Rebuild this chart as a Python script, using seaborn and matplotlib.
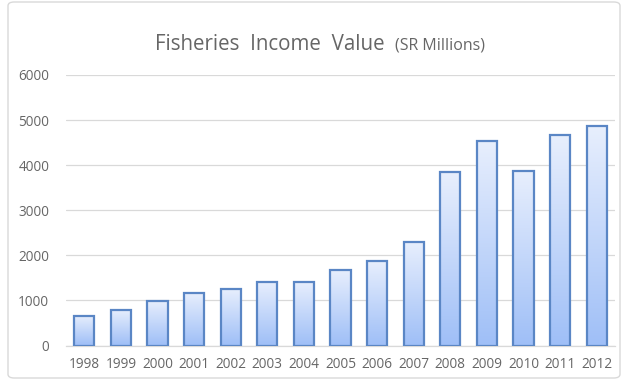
import numpy as np
import pandas as pd
import matplotlib
matplotlib.use("Agg")
import matplotlib.pyplot as plt
import seaborn as sns
from matplotlib.colors import LinearSegmentedColormap
from matplotlib.patches import FancyBboxPatch

years = ["1998", "1999", "2000", "2001", "2002", "2003", "2004", "2005",
         "2006", "2007", "2008", "2009", "2010", "2011", "2012"]
income = [660, 795, 980, 1165, 1255, 1400, 1400, 1680, 1885, 2285,
          3845, 4545, 3860, 4660, 4865]
yticks = [0, 1000, 2000, 3000, 4000, 5000, 6000]

df = pd.DataFrame({"year": years, "income": income})

sns.set_theme(style="white")
plt.rcParams["font.family"] = ["Open Sans", "DejaVu Sans"]

fig = plt.figure(figsize=(6.26, 3.81), dpi=100)
ax = fig.add_axes([66/626, 1 - 345.5/381, (615-66)/626, 270.5/381])

sns.barplot(data=df, x="year", y="income", ax=ax, width=0.55,
            color="#c5d8fa", edgecolor="#5a86c5", linewidth=1.6, zorder=3)

cmap = LinearSegmentedColormap.from_list("g", ["#9fbff7", "#e8effd"])
grad = np.linspace(0, 1, 256).reshape(-1, 1)
for p in ax.patches:
    x0, y0 = p.get_x(), p.get_y()
    w, h = p.get_width(), p.get_height()
    im = ax.imshow(grad, cmap=cmap, aspect="auto", origin="lower",
                   extent=[x0, x0 + w, y0, y0 + h], zorder=2.5)
    im.set_clip_path(p)
    p.set_facecolor("none")

ax.set_xlim(-0.5, len(years) - 0.5)
ax.set_ylim(0, 6000)
ax.set_yticks(yticks)
ax.set_yticklabels([str(v) for v in yticks])
ax.yaxis.grid(True, color="#d9d9d9", linewidth=0.9, zorder=0)
ax.set_axisbelow(True)
for s in ["top", "right", "left"]:
    ax.spines[s].set_visible(False)
ax.spines["bottom"].set_color("#d9d9d9")
ax.spines["bottom"].set_linewidth(0.9)
ax.set_xlabel("")
ax.set_ylabel("")
ax.tick_params(axis="both", length=0, labelsize=9.8, labelcolor="#666666", pad=8)
ax.tick_params(axis="y", pad=12)

fig.text(155/626, 1 - 50/381, "Fisheries  Income  Value", ha="left", va="baseline",
         fontsize=14.8, color="#666666")
fig.text(395/626, 1 - 50/381, "(SR Millions)", ha="left", va="baseline",
         fontsize=11.5, color="#666666")

border = FancyBboxPatch((8/626, 3/381), 612/626, 376/381,
                        boxstyle="round,pad=0,rounding_size=0.01",
                        transform=fig.transFigure, facecolor="none",
                        edgecolor="#d9d9d9", linewidth=1)
fig.patches.append(border)

fig.savefig("out.png", dpi=100)
